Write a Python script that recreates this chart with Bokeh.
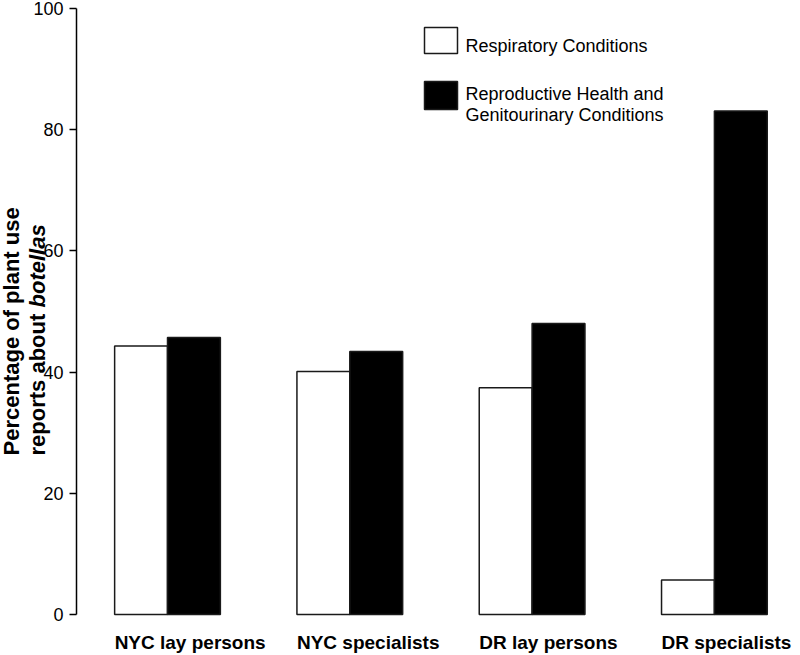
import math
from bokeh.plotting import figure
from bokeh.models import Range1d, FixedTicker
from bokeh.core.properties import value
from bokeh.embed import file_html
from bokeh.resources import INLINE

# ---- data ----
categories = ["NYC lay persons", "NYC specialists", "DR lay persons", "DR specialists"]
respiratory = [44.3, 40.1, 37.4, 5.7]
reproductive = [45.7, 43.4, 48.0, 83.1]
y_ticks = [0, 20, 40, 60, 80, 100]
legend_resp = "Respiratory Conditions"
legend_repr_lines = ["Reproductive Health and", "Genitourinary Conditions"]
ylabel_line1 = "Percentage of plant use"
ylabel_line2a = "reports about "
ylabel_line2b = "botellas"

# ---- layout (canvas pixels) ----
W, H = 800, 655
GROUP_PX = 182.3        # distance between category centres
FIRST_CENTER = 167.0    # pixel x of first category centre
ZERO_PX, TOP_PX = 614.0, 8.0   # pixel y of 0 and 100
AXIS_PX = 76.0
FONT = "Liberation Sans"

ppu = (ZERO_PX - TOP_PX) / 100.0
x_range = Range1d(1 - FIRST_CENTER / GROUP_PX, 1 + (W - FIRST_CENTER) / GROUP_PX)
y_range = Range1d((ZERO_PX - H) / ppu, ZERO_PX / ppu)


def px_x(px):
    return x_range.start + px / W * (x_range.end - x_range.start)


def px_y(py):
    return y_range.end - py / H * (y_range.end - y_range.start)


p = figure(width=W, height=H, x_range=x_range, y_range=y_range,
           output_backend="svg", toolbar_location=None, x_axis_location=None,
           min_border=0, min_border_left=0, min_border_right=0,
           min_border_top=0, min_border_bottom=0)
p.grid.visible = False
p.outline_line_color = None
p.background_fill_color = "white"
p.border_fill_color = "white"

ax = p.yaxis[0]
ax.fixed_location = px_x(AXIS_PX)
ax.ticker = FixedTicker(ticks=y_ticks)
ax.bounds = (0, 100)
ax.minor_tick_line_color = None
ax.major_tick_in = 0
ax.major_tick_out = 7
ax.major_tick_line_width = 1.5
ax.major_tick_line_color = "black"
ax.axis_line_width = 1.5
ax.axis_line_color = "black"
ax.major_label_text_font = FONT
ax.major_label_text_font_size = "18px"
ax.major_label_text_color = "black"
ax.major_label_standoff = 6

idx = list(range(1, len(categories) + 1))
BW = 0.29
p.vbar(x=[i - BW / 2 for i in idx], top=respiratory, bottom=0, width=BW,
       fill_color="white", line_color="#1a1a1a", line_width=1.5)
p.vbar(x=[i + BW / 2 for i in idx], top=reproductive, bottom=0, width=BW,
       fill_color="black", line_color="#1a1a1a", line_width=1.5)

# ---- legend ----
p.quad(left=[px_x(424)], right=[px_x(457)], top=[px_y(27)], bottom=[px_y(53)],
       fill_color="white", line_color="#1a1a1a", line_width=1.5)
p.quad(left=[px_x(424)], right=[px_x(457)], top=[px_y(81)], bottom=[px_y(109)],
       fill_color="black", line_color="#1a1a1a", line_width=1.5)
p.text(x=[px_x(465)] * 3, y=[px_y(45.5), px_y(93.5), px_y(114.5)],
       text=[legend_resp] + legend_repr_lines,
       text_font=value(FONT), text_font_size=value("18px"), text_color="black",
       text_align=value("left"), text_baseline=value("alphabetic"))

# ---- category labels ----
p.text(x=[i - BW for i in idx], y=[px_y(642)] * len(idx), text=categories,
       text_font=value(FONT), text_font_size=value("19px"), text_font_style=value("bold"),
       text_color="black", text_align=value("left"), text_baseline=value("alphabetic"))

# ---- y axis title (two lines, one italic word) ----
p.text(x=[px_x(11), px_x(37)], y=[px_y(455), px_y(455)], text=[ylabel_line1, ylabel_line2a],
       angle=math.pi / 2, text_font=value(FONT), text_font_size=value("22px"),
       text_font_style=value("bold"), text_color="black",
       text_align=value("left"), text_baseline=value("alphabetic"))
p.text(x=[px_x(37)], y=[px_y(455 - 148)], text=[ylabel_line2b],
       angle=math.pi / 2, text_font=value(FONT), text_font_size=value("22px"),
       text_font_style=value("bold italic"), text_color="black",
       text_align=value("left"), text_baseline=value("alphabetic"))

open("out.html", "w").write(file_html(p, INLINE))
